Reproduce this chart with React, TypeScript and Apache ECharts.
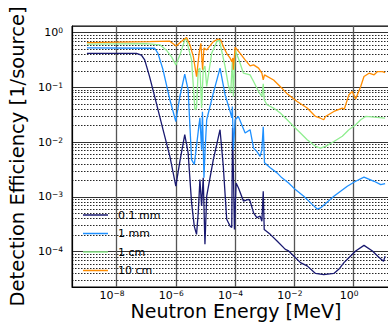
import React, { useEffect, useRef } from "react";
import * as echarts from "echarts";

const seriesNames = ["0.1 mm", "1 mm", "1 cm", "10 cm"];
const seriesColors = ["#191970", "#1e90ff", "#90ee90", "#ff8c00"];

const curve01mm: [number, number][] = [
  [1e-9, 0.42], [4.7e-8, 0.42], [6.9e-8, 0.39], [8.9e-8, 0.318], [1.3e-7, 0.158],
  [2.2e-7, 0.0518], [3.7e-7, 0.0169], [6.3e-7, 5.5e-3], [1.0e-6, 1.57e-3], [1.37e-6, 4.47e-3],
  [2.0e-6, 0.0137], [2.6e-6, 6.35e-3], [3.4e-6, 7.8e-4], [4.2e-6, 2.9e-4], [5.0e-6, 2.07e-4],
  [5.7e-6, 5.1e-4], [6.5e-6, 2.07e-3], [7.4e-6, 6.8e-4], [8.4e-6, 2.23e-3], [9.6e-6, 1.36e-4],
  [1.1e-5, 1.03e-3], [1.84e-5, 4.8e-3], [3.1e-5, 0.0169], [4.0e-5, 3.6e-3], [5.2e-5, 3.9e-4],
  [6.8e-5, 2.9e-4], [7.7e-5, 2.77e-4], [8.2e-5, 0.0184], [9.5e-5, 2.55e-4], [1.08e-4, 1.8e-3],
  [1.29e-4, 1.47e-3], [1.91e-4, 8.4e-4], [2.82e-4, 9.0e-4], [3.2e-4, 8.4e-4], [4.2e-4, 5.1e-4],
  [5.4e-4, 4.2e-4], [7.0e-4, 4.45e-4], [8.0e-4, 3.6e-4], [8.9e-4, 1.27e-3], [9.6e-4, 2.55e-4],
  [1.53e-3, 2.07e-4], [2.6e-3, 1.56e-4], [4.95e-3, 1.1e-4], [6.4e-3, 1.03e-4], [9.5e-3, 8.3e-5],
  [0.016, 6.3e-5], [0.027, 5.5e-5], [0.0515, 4.0e-5], [0.098, 3.8e-5], [0.215, 4.0e-5],
  [0.32, 4.8e-5], [0.47, 6.3e-5], [0.79, 8.3e-5], [1.17, 1.03e-4], [2.23, 1.3e-4],
  [4.3, 1.03e-4], [7.2, 7.8e-5], [10.2, 6.65e-5], [11.5, 8.3e-5],
];

const curve1mm: [number, number][] = [
  [1e-9, 0.53], [1.94e-7, 0.52], [2.5e-7, 0.42], [3.7e-7, 0.21], [6.3e-7, 0.0595],
  [1.0e-6, 0.0239], [1.37e-6, 0.0683], [2.0e-6, 0.175], [2.6e-6, 0.09], [3.4e-6, 4.8e-3],
  [4.2e-6, 3.9e-3], [5.7e-6, 0.0157], [6.5e-6, 0.0279], [7.4e-6, 7.3e-3], [7.9e-6, 0.036],
  [8.9e-6, 2.25e-3], [9.6e-6, 6.4e-3], [1.1e-5, 0.0257], [1.84e-5, 0.0787], [3.1e-5, 0.225],
  [4.6e-5, 0.0733], [6.8e-5, 0.0364], [7.7e-5, 0.0279], [8.1e-5, 0.0449], [8.75e-5, 7.3e-3],
  [1.0e-4, 0.0257], [1.29e-4, 0.0295], [2.18e-4, 0.0147], [3.2e-4, 0.0169], [4.2e-4, 7.8e-3],
  [5.4e-4, 6.8e-3], [7.0e-4, 5.5e-3], [8.0e-4, 7.3e-3], [8.9e-4, 0.0191], [9.8e-4, 4.2e-3],
  [1.53e-3, 3.4e-3], [2.6e-3, 2.75e-3], [3.8e-3, 2.23e-3], [6.4e-3, 1.8e-3], [0.0108, 1.36e-3],
  [0.0207, 1.03e-3], [0.04, 7.3e-4], [0.059, 6.0e-4], [0.076, 6.3e-4], [0.215, 1.03e-3],
  [0.61, 1.57e-3], [1.17, 1.93e-3], [2.23, 2.3e-3], [4.9, 1.93e-3], [8.2, 1.68e-3], [11.5, 1.75e-3],
];

const curve1cm: [number, number][] = [
  [1e-9, 0.62], [1.0e-7, 0.63], [2.9e-7, 0.6], [4.8e-7, 0.48], [7.1e-7, 0.365],
  [1.0e-6, 0.258], [1.37e-6, 0.39], [2.0e-6, 0.736], [2.3e-6, 0.79], [2.6e-6, 0.556],
  [3.4e-6, 0.318], [4.4e-6, 0.039], [5.0e-6, 0.0425], [5.7e-6, 0.21], [6.5e-6, 0.225],
  [7.4e-6, 0.042], [8.4e-6, 0.21], [9.6e-6, 0.247], [1.1e-5, 0.104], [1.62e-5, 0.42],
  [2.4e-5, 0.686], [2.94e-5, 0.736], [4.6e-5, 0.24], [5.9e-5, 0.111], [7.1e-5, 0.0787],
  [8.1e-5, 0.318], [8.75e-5, 0.0683], [1.0e-4, 0.484], [1.29e-4, 0.342], [1.91e-4, 0.182],
  [3.2e-4, 0.17], [4.2e-4, 0.128], [6.2e-4, 0.0842], [8.0e-4, 0.0683], [8.9e-4, 0.116],
  [9.6e-4, 0.0595], [1.19e-3, 0.0482], [1.99e-3, 0.042], [3.35e-3, 0.034], [5.7e-3, 0.0257],
  [9.5e-3, 0.0194], [0.016, 0.0147], [0.027, 0.0111], [0.0515, 8.4e-3], [0.076, 7.8e-3],
  [0.112, 8.4e-3], [0.215, 0.0103], [0.414, 0.0128], [0.69, 0.0169], [1.17, 0.0208],
  [1.73, 0.0257], [2.55, 0.0295], [4.9, 0.0288], [11.5, 0.0276],
];

const curve10cm: [number, number][] = [
  [1e-9, 0.66], [1.3e-7, 0.686], [6.3e-7, 0.7], [1.02e-6, 0.573], [1.77e-6, 0.736],
  [2.3e-6, 0.818], [3.0e-6, 0.597], [3.9e-6, 0.365], [5.0e-6, 0.158], [6.2e-6, 0.45],
  [7.0e-6, 0.64], [8.0e-6, 0.21], [8.9e-6, 0.526], [1.1e-5, 0.484], [1.84e-5, 0.686],
  [2.7e-5, 0.768], [3.3e-5, 0.736], [4.0e-5, 0.556], [5.2e-5, 0.42], [6.8e-5, 0.342],
  [7.7e-5, 0.296], [8.4e-5, 0.346], [8.75e-5, 0.21], [1.0e-4, 0.542], [1.48e-4, 0.42],
  [2.18e-4, 0.318], [3.2e-4, 0.247], [4.2e-4, 0.258], [6.2e-4, 0.225], [8.0e-4, 0.182],
  [8.9e-4, 0.137], [9.8e-4, 0.17], [1.99e-3, 0.137], [3.8e-3, 0.097], [5.7e-3, 0.0764],
  [0.0124, 0.0554], [0.027, 0.042], [0.0515, 0.0295], [0.076, 0.0274], [0.098, 0.0257],
  [0.112, 0.0295], [0.215, 0.0364], [0.414, 0.042], [0.48, 0.04], [0.69, 0.0733],
  [0.9, 0.0842], [1.17, 0.0612], [1.73, 0.104], [2.23, 0.158], [3.3, 0.182],
  [4.9, 0.17], [6.4, 0.195], [9.4, 0.195], [11.5, 0.187],
];

const curves = [curve01mm, curve1mm, curve1cm, curve10cm];

const xTitle = "Neutron Energy [MeV]";
const yTitle = "Detection Efficiency [1/source]";

const FONT = "DejaVu Sans";

const powLabel = (v: number) => {
  const e = Math.round(Math.log10(v));
  const s = e < 0 ? "\u2212" + String(-e) : String(e);
  return `{b|10}{s|${s}}`;
};

const labelRich = {
  b: { fontFamily: FONT, fontSize: 11, color: "#000", lineHeight: 12 },
  s: { fontFamily: FONT, fontSize: 7.5, color: "#000", lineHeight: 12, verticalAlign: "top" as const },
};

export default function App() {
  const ref = useRef<HTMLDivElement>(null);
  useEffect(() => {
    if (!ref.current) return;
    const chart = echarts.init(ref.current, null, { renderer: "svg" });
    chart.setOption({
      animation: false,
      backgroundColor: "#fff",
      textStyle: { fontFamily: FONT },
      grid: {
        left: 72, top: 26, width: 328, height: 261,
        outerBoundsMode: "none",
        containLabel: false,
        show: true, borderColor: "#000", borderWidth: 1, backgroundColor: "transparent",
      },
      legend: {
        left: 83, top: 208, orient: "vertical", padding: 0,
        icon: "rect",
        itemWidth: 25, itemHeight: 1.5, itemGap: 4.5,
        textStyle: { fontFamily: FONT, fontSize: 11, color: "#000", lineHeight: 14, padding: [0, 0, 0, 5] },
        data: seriesNames,
      },
      xAxis: {
        type: "log",
        logBase: 100,
        min: 3.14e-10,
        max: 36.6,
        name: xTitle,
        nameLocation: "middle",
        nameGap: 14,
        nameMoveOverlap: false,
        nameTextStyle: { fontFamily: FONT, fontSize: 19, color: "#000", verticalAlign: "top", lineHeight: 20 },
        axisLine: { show: true, lineStyle: { color: "#000", width: 1 } },
        axisTick: { show: false },
        axisLabel: {
          formatter: powLabel, rich: labelRich, margin: 2,
          showMinLabel: false, showMaxLabel: false, padding: [0, 9, 0, 0],
        },
        splitLine: { show: true, lineStyle: { color: "#555", width: 1.3 } },
      },
      yAxis: {
        type: "log",
        min: 2.26e-5,
        max: 1.326,
        name: yTitle,
        nameLocation: "middle",
        nameGap: 37,
        nameTextStyle: { fontFamily: FONT, fontSize: 19.5, color: "#000" },
        axisLine: { show: true, lineStyle: { color: "#000", width: 1 } },
        axisTick: { show: false },
        axisLabel: {
          formatter: powLabel, rich: labelRich, margin: 9,
          showMinLabel: false, showMaxLabel: false,
        },
        splitLine: { show: true, lineStyle: { color: "#333", width: 1.2 } },
        minorTick: { show: false, splitNumber: 9 },
        minorSplitLine: { show: true, lineStyle: { color: "#000", width: 1, type: [1.5, 1.5], opacity: 0.85 } },
      },
      series: curves.map((c, i) => ({
        name: seriesNames[i],
        type: "line",
        data: c,
        symbol: "none",
        color: seriesColors[i],
        lineStyle: { color: seriesColors[i], width: 1.3 },
        z: 2 + i,
      })),
    });
    return () => chart.dispose();
  }, []);
  return <div ref={ref} style={{ width: 388, height: 324, position: "absolute", left: 0, top: 0 }} />;
}
